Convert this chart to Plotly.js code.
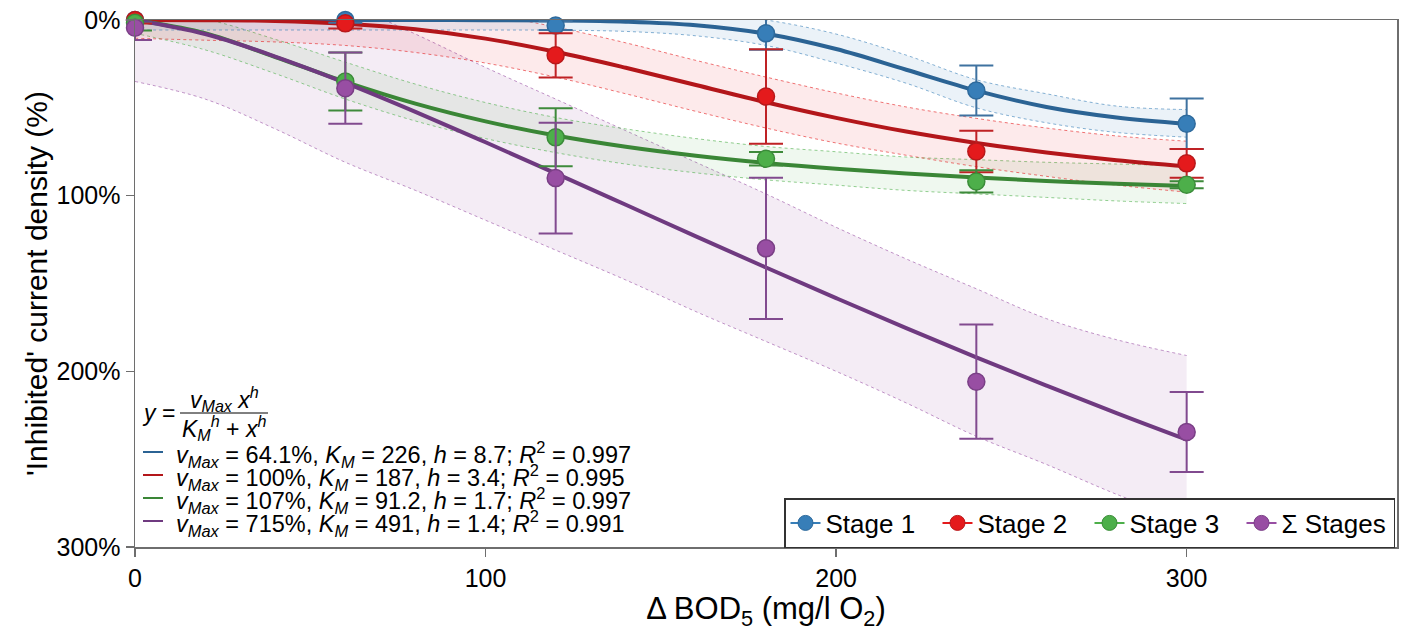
<!DOCTYPE html>
<html>
<head>
<meta charset="utf-8">
<script src="https://cdn.plot.ly/plotly-3.0.1.min.js"></script>
<style>
html,body{margin:0;padding:0;background:#fff;}
#chart{width:1405px;height:632px;}
</style>
</head>
<body>
<div id="chart"></div>
<script>
// ---- data ----
const xFit = [0,20,40,60,80,100,120,140,160,180,200,220,240,260,280,300];

const fitStage1 = [0,0,0,0,0,0.1,0.3,1.0,3.0,7.8,16.5,28.3,40.2,49.5,55.5,59.1];
const bandStage1Min = [-6,-6,-6,-6,-6,-6,-6,-5.5,-4,0,8,20,34,42,49,51];
const bandStage1Max = [5.7,5.7,5.7,5.7,5.7,5.7,5.8,6.5,9,14.5,24.5,36,50,58.5,64,66.7];

const fitStage2 = [0,0.1,0.5,2.1,5.3,10.6,18.1,27.2,37.0,46.8,55.7,63.5,70.0,75.4,79.8,83.3];
const bandStage2Min = [-12,-12,-12,-11,-8.5,-3.5,4,13,23,32.5,41.5,49.5,56,61.5,66,69];
const bandStage2Max = [10.4,11.5,12.5,14.5,18.5,24.5,32.5,42,52,61.5,70,77,83.5,89,94,98];

const fitStage3 = [0,7.5,21.1,35.2,47.6,57.7,65.8,72.2,77.3,81.4,84.7,87.4,89.7,91.6,93.2,94.5];
const bandStage3Min = [-5,-0.5,11,24,36.5,47,55.5,62,67.5,72,75,78,79.5,81,82,83];
const bandStage3Max = [7.6,17,30.5,45,57.5,67.5,75.5,82,87,91,94,97,99,101,103,104.5];

const fitSum = [0,8.0,20.8,35.8,52.3,69.6,87.3,105.2,123.2,140.9,158.3,175.4,192.0,208.1,223.8,238.9];
const bandSumMin = [-60,-45,-28,-10,8,27,45,63,81,99,118,136,153,170,182,191];
const bandSumMax = [35,45,62,81,97,114,131,148,166,183,200,218,237,253,270,285];

const xPts = [0,60,120,180,240,300];
const stage1 = [0,0,3.2,7.6,40.1,59.1];
const stage1Err = [1.5,1.5,2.5,9.3,14.2,14.4];
const stage2 = [0,1.9,20.1,43.6,74.8,81.6];
const stage2Err = [2,3,12.6,26.9,11.8,8.2];
const stage3 = [1.5,35,66.8,79,91.9,93.8];
const stage3Err = [4.5,16.5,16.5,3.8,6.3,2];
const stageSum = [4.4,38.8,90,130,205.9,234.5];
const stageSumErr = [7,20.3,31.5,40.2,32.5,22.8];

const yTickVals = [0,100,200,300];
const yTickText = ['0%','100%','200%','300%'];
const xTickVals = [0,100,200,300];

const seriesNames = ['Stage 1','Stage 2','Stage 3','\u03A3 Stages'];
const fitLabels = [
  '<i>v</i><sub><i>Max</i></sub> = 64.1%, <i>K</i><sub><i>M</i></sub> = 226, <i>h</i> = 8.7; <i>R</i><sup>2</sup> = 0.997',
  '<i>v</i><sub><i>Max</i></sub> = 100%, <i>K</i><sub><i>M</i></sub> = 187, <i>h</i> = 3.4; <i>R</i><sup>2</sup> = 0.995',
  '<i>v</i><sub><i>Max</i></sub> = 107%, <i>K</i><sub><i>M</i></sub> = 91.2, <i>h</i> = 1.7; <i>R</i><sup>2</sup> = 0.997',
  '<i>v</i><sub><i>Max</i></sub> = 715%, <i>K</i><sub><i>M</i></sub> = 491, <i>h</i> = 1.4; <i>R</i><sup>2</sup> = 0.991'
];

// ---- styles ----
const markerCol = ['#377EB8','#E41A1C','#4DAF4A','#984EA3'];
const markerEdge = ['#2E6A9C','#B8191B','#3B8C39','#7A3F86'];
const lineCol = ['#2B6394','#B3161A','#3A8636','#6F3A80'];
const errCol = ['#3F72A0','#BF2225','#3E8A3B','#814A8F'];
const fillCol = ['rgba(55,126,184,0.10)','rgba(228,26,28,0.09)','rgba(77,175,74,0.09)','rgba(152,78,163,0.11)'];
const edgeCol = ['rgba(55,126,184,0.6)','rgba(228,26,28,0.6)','rgba(77,175,74,0.6)','rgba(152,78,163,0.6)'];

const fits = [fitStage1, fitStage2, fitStage3, fitSum];
const bandMin = [bandStage1Min, bandStage2Min, bandStage3Min, bandSumMin];
const bandMax = [bandStage1Max, bandStage2Max, bandStage3Max, bandSumMax];
const pts = [stage1, stage2, stage3, stageSum];
const errs = [stage1Err, stage2Err, stage3Err, stageSumErr];

const traces = [];
// confidence bands
for (let i = 3; i >= 0; i--) {
  traces.push({x:xFit, y:bandMax[i], mode:'lines', line:{color:edgeCol[i], width:1, dash:'dot', shape:'spline'},
    showlegend:false, hoverinfo:'skip'});
  traces.push({x:xFit, y:bandMin[i], mode:'lines', fill:'tonexty', fillcolor:fillCol[i],
    line:{color:edgeCol[i], width:1, dash:'dot', shape:'spline'}, showlegend:false, hoverinfo:'skip'});
}
// fitted curves
for (let i = 0; i < 4; i++) {
  traces.push({x:xFit, y:fits[i], mode:'lines', line:{color:lineCol[i], width:4, shape:'spline'},
    showlegend:false});
}
// measured points
for (let i = 0; i < 4; i++) {
  traces.push({x:xPts, y:pts[i], mode:'markers', cliponaxis:false,
    marker:{size:17, color:markerCol[i], line:{color:markerEdge[i], width:1.5}},
    error_y:{type:'data', array:errs[i], visible:true, color:errCol[i], thickness:2, width:17},
    showlegend:false});
}
// legend entries
for (let i = 0; i < 4; i++) {
  traces.push({x:[null], y:[null], mode:'lines+markers', name:seriesNames[i],
    line:{color:markerCol[i], width:2}, marker:{size:15, color:markerCol[i], line:{color:markerEdge[i], width:1}}});
}

// pixel -> paper helpers for the plot box
const L = 135, R = 1397, T = 20, B = 547;
const px = x => (x - L) / (R - L);
const py = y => (B - y) / (B - T);

const font = 'Liberation Sans, Arial, sans-serif';
const annotations = [
  {xref:'paper', yref:'paper', x:px(140), y:py(413), xanchor:'left', yanchor:'middle', showarrow:false,
   text:'<i>y</i> =', font:{size:23, color:'#000', family:font}},
  {xref:'paper', yref:'paper', x:px(224), y:py(399), xanchor:'center', yanchor:'middle', showarrow:false,
   text:'<i>v</i><sub><i>Max</i></sub> <i>x</i><sup><i>h</i></sup>', font:{size:23, color:'#000', family:font}},
  {xref:'paper', yref:'paper', x:px(224), y:py(428), xanchor:'center', yanchor:'middle', showarrow:false,
   text:'<i>K</i><sub><i>M</i></sub><sup><i>h</i></sup> + <i>x</i><sup><i>h</i></sup>', font:{size:23, color:'#000', family:font}}
];
const shapes = [
  {type:'line', xref:'paper', yref:'paper', x0:px(180), x1:px(268), y0:py(413), y1:py(413), line:{color:'#000', width:1}}
];
const rowY = [454, 477, 500, 523];
for (let i = 0; i < 4; i++) {
  annotations.push({xref:'paper', yref:'paper', x:px(174), y:py(rowY[i]), xanchor:'left', yanchor:'middle',
    showarrow:false, text:fitLabels[i], font:{size:23.5, color:'#000', family:font}});
  shapes.push({type:'line', xref:'paper', yref:'paper', x0:px(143), x1:px(163), y0:py(rowY[i]-2), y1:py(rowY[i]-2),
    line:{color:lineCol[i], width:2}});
}

const layout = {
  width:1405, height:632,
  margin:{l:L, r:1405-R, t:T, b:632-B},
  paper_bgcolor:'#fff', plot_bgcolor:'#fff',
  font:{family:font, size:25, color:'#000'},
  xaxis:{range:[0,360], tickmode:'array', tickvals:xTickVals, ticks:'outside', ticklen:8, tickwidth:1.5, tickcolor:'#6e6e6e',
    showline:true, linecolor:'#6e6e6e', linewidth:1.5, mirror:true, showgrid:false, zeroline:false,
    tickfont:{size:25}, title:{text:'\u0394 BOD<sub>5</sub> (mg/l O<sub>2</sub>)', font:{size:31}, standoff:2}},
  yaxis:{range:[300,0], tickmode:'array', tickvals:yTickVals, ticktext:yTickText, ticks:'outside', ticklen:8, tickwidth:1.5,
    tickcolor:'#6e6e6e', showline:true, linecolor:'#6e6e6e', linewidth:1.5, mirror:true, showgrid:false, zeroline:false,
    tickfont:{size:25}, title:{text:"'Inhibited' current density (%)", font:{size:30}, standoff:0}},
  showlegend:true,
  legend:{orientation:'h', traceorder:'normal', x:px(1395), xanchor:'right', y:py(548), yanchor:'bottom', bgcolor:'#fff',
    bordercolor:'#333', borderwidth:1.5, font:{size:26}, itemwidth:30, entrywidth:107, entrywidthmode:'pixels'},
  annotations:annotations,
  shapes:shapes
};

Plotly.newPlot('chart', traces, layout, {displayModeBar:false, staticPlot:true});
</script>
</body>
</html>
